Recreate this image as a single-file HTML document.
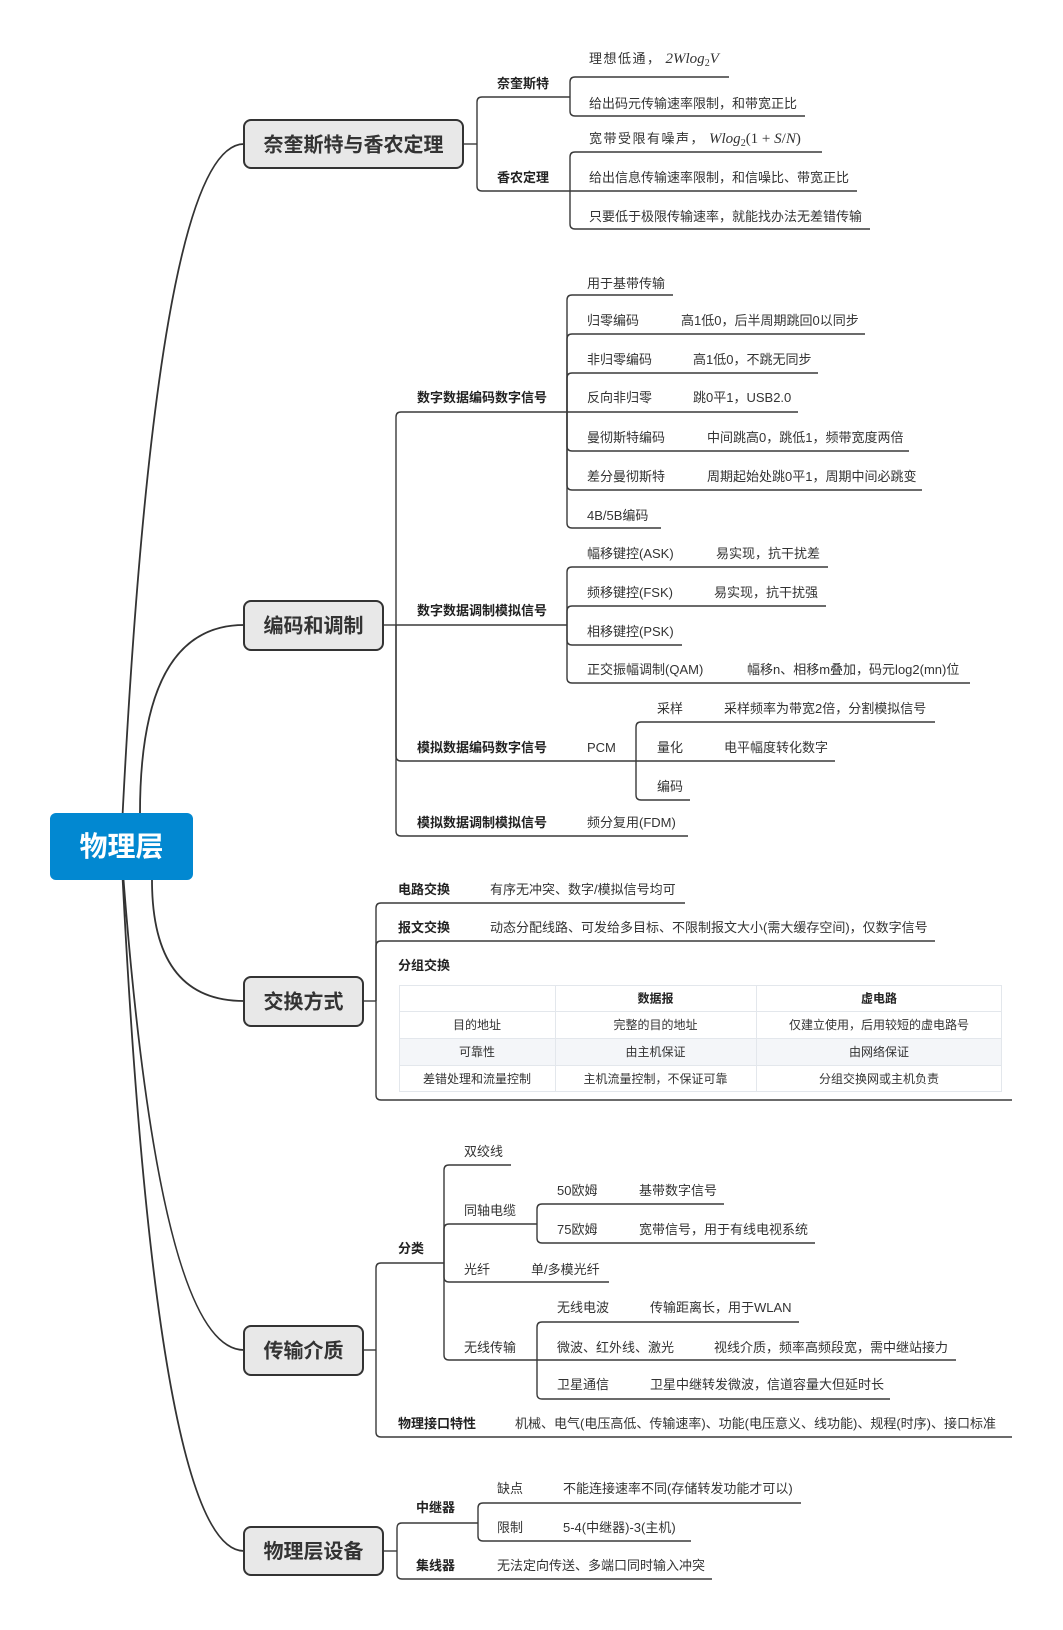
<!DOCTYPE html>
<html><head><meta charset="utf-8"><style>
html,body{margin:0;padding:0;background:#fff;}
svg{display:block;}
text{font-family:"Liberation Sans","Noto Sans CJK SC",sans-serif;font-size:13px;fill:#333;}
.b{font-weight:bold;fill:#222;}
.t{font-size:12px;fill:#333;}
.tb{font-size:12px;font-weight:bold;fill:#222;}
.m{font-family:"Liberation Serif",serif;font-style:italic;font-size:15px;}
.mr{font-family:"Liberation Serif",serif;font-style:normal;font-size:15px;}
.sub{font-family:"Liberation Serif",serif;font-style:normal;font-size:10px;}
.box{font-size:20px;font-weight:bold;fill:#333;}
</style></head><body>
<svg width="1063" height="1630" viewBox="0 0 1063 1630" xmlns="http://www.w3.org/2000/svg">
<rect width="1063" height="1630" fill="#fff"/>
<!-- root curves -->
<g fill="none" stroke="#333" stroke-width="1.8">
<path d="M121 846 Q155 144 244 144"/>
<path d="M140 813 Q140 625 244 625"/>
<path d="M152 880 Q152 1001 244 1001"/>
<path d="M121 846 Q157 1350 244 1350"/>
<path d="M121 846 Q155 1551 244 1551"/>
</g>
<!-- branch lines -->
<g fill="none" stroke="#3a3a3a" stroke-width="1.4">
<!-- section 1 -->
<path d="M463 144 L477 144"/>
<path d="M477 144 L477 102 Q477 97 482 97 L570 97"/>
<path d="M477 144 L477 186 Q477 191 482 191 L570 191"/>
<path d="M570 97 L570 82 Q570 77 575 77 L729 77"/>
<path d="M570 97 L570 111 Q570 116 575 116 L805 116"/>
<path d="M570 191 L570 157 Q570 152 575 152 L822 152"/>
<path d="M570 191 L857 191"/>
<path d="M570 191 L570 224 Q570 229 575 229 L870 229"/>
<!-- section 2 -->
<path d="M383 625 L396 625"/>
<path d="M396 625 L396 417 Q396 412 401 412 L567 412"/>
<path d="M396 625 L567 625"/>
<path d="M396 625 L396 756 Q396 761 401 761 L636 761"/>
<path d="M396 625 L396 831 Q396 836 401 836 L688 836"/>
<path d="M567 412 L567 300 Q567 295 572 295 L673 295"/>
<path d="M567 412 L567 339 Q567 334 572 334 L865 334"/>
<path d="M567 412 L567 378 Q567 373 572 373 L818 373"/>
<path d="M567 412 L798 412"/>
<path d="M567 412 L567 446 Q567 451 572 451 L909 451"/>
<path d="M567 412 L567 485 Q567 490 572 490 L922 490"/>
<path d="M567 412 L567 523 Q567 528 572 528 L661 528"/>
<path d="M567 625 L567 572 Q567 567 572 567 L828 567"/>
<path d="M567 625 L567 611 Q567 606 572 606 L826 606"/>
<path d="M567 625 L567 640 Q567 645 572 645 L682 645"/>
<path d="M567 625 L567 678 Q567 683 572 683 L970 683"/>
<path d="M636 761 L636 727 Q636 722 641 722 L935 722"/>
<path d="M636 761 L835 761"/>
<path d="M636 761 L636 795 Q636 800 641 800 L690 800"/>
<!-- section 3 -->
<path d="M363 1001 L376 1001"/>
<path d="M376 1001 L376 908 Q376 903 381 903 L685 903"/>
<path d="M376 1001 L376 946 Q376 941 381 941 L935 941"/>
<path d="M376 1001 L376 1095 Q376 1100 381 1100 L1012 1100"/>
<!-- section 4 -->
<path d="M363 1350 L376 1350"/>
<path d="M376 1350 L376 1268 Q376 1263 381 1263 L444 1263"/>
<path d="M376 1350 L376 1432 Q376 1437 381 1437 L1012 1437"/>
<path d="M444 1263 L444 1170 Q444 1165 449 1165 L511 1165"/>
<path d="M444 1263 L444 1229 Q444 1224 449 1224 L537 1224"/>
<path d="M444 1263 L444 1277 Q444 1282 449 1282 L609 1282"/>
<path d="M444 1263 L444 1355 Q444 1360 449 1360 L537 1360"/>
<path d="M537 1224 L537 1209 Q537 1204 542 1204 L724 1204"/>
<path d="M537 1224 L537 1238 Q537 1243 542 1243 L815 1243"/>
<path d="M537 1360 L537 1327 Q537 1322 542 1322 L799 1322"/>
<path d="M537 1360 L956 1360"/>
<path d="M537 1360 L537 1394 Q537 1399 542 1399 L890 1399"/>
<!-- section 5 -->
<path d="M383 1551 L397 1551"/>
<path d="M397 1551 L397 1528 Q397 1523 402 1523 L478 1523"/>
<path d="M397 1551 L397 1574 Q397 1579 402 1579 L712 1579"/>
<path d="M478 1523 L478 1508 Q478 1503 483 1503 L801 1503"/>
<path d="M478 1523 L478 1536 Q478 1541 483 1541 L691 1541"/>
</g>

<!-- root -->
<rect x="50" y="813" width="143" height="67" rx="6" fill="#0288d1"/>
<text x="121.5" y="856" text-anchor="middle" style="font-size:28px;font-weight:bold;fill:#fff;">物理层</text>

<!-- main boxes -->
<g fill="#e8e8e8" stroke="#333" stroke-width="2">
<rect x="244" y="120" width="219" height="48" rx="7"/>
<rect x="244" y="601" width="139" height="49" rx="7"/>
<rect x="244" y="977" width="119" height="49" rx="7"/>
<rect x="244" y="1326" width="119" height="49" rx="7"/>
<rect x="244" y="1527" width="139" height="48" rx="7"/>
</g>
<text class="box" x="353.5" y="151.5" text-anchor="middle">奈奎斯特与香农定理</text>
<text class="box" x="313.5" y="632.5" text-anchor="middle">编码和调制</text>
<text class="box" x="303.5" y="1008.5" text-anchor="middle">交换方式</text>
<text class="box" x="303.5" y="1357.5" text-anchor="middle">传输介质</text>
<text class="box" x="313.5" y="1558" text-anchor="middle">物理层设备</text>

<!-- section 1 text -->
<text class="b" x="497" y="88">奈奎斯特</text>
<text class="b" x="497" y="182">香农定理</text>
<text x="589" y="63"><tspan letter-spacing="1.5">理想低通，</tspan><tspan class="m" dx="4">2Wlog</tspan><tspan class="sub" dy="3">2</tspan><tspan class="m" dy="-3">V</tspan></text>
<text x="589" y="108">给出码元传输速率限制，和带宽正比</text>
<text x="589" y="143"><tspan letter-spacing="1.5">宽带受限有噪声，</tspan><tspan class="m" dx="4">Wlog</tspan><tspan class="sub" dy="3">2</tspan><tspan class="mr" dy="-3">(1 + </tspan><tspan class="m">S</tspan><tspan class="mr">/</tspan><tspan class="m">N</tspan><tspan class="mr">)</tspan></text>
<text x="589" y="182">给出信息传输速率限制，和信噪比、带宽正比</text>
<text x="589" y="221">只要低于极限传输速率，就能找办法无差错传输</text>

<!-- section 2 text -->
<text class="b" x="417" y="402">数字数据编码数字信号</text>
<text class="b" x="417" y="615">数字数据调制模拟信号</text>
<text class="b" x="417" y="752">模拟数据编码数字信号</text>
<text class="b" x="417" y="827">模拟数据调制模拟信号</text>
<text x="587" y="288">用于基带传输</text>
<text x="587" y="325">归零编码</text><text x="681" y="325">高1低0，后半周期跳回0以同步</text>
<text x="587" y="364">非归零编码</text><text x="693" y="364">高1低0，不跳无同步</text>
<text x="587" y="402">反向非归零</text><text x="693" y="402">跳0平1，USB2.0</text>
<text x="587" y="442">曼彻斯特编码</text><text x="707" y="442">中间跳高0，跳低1，频带宽度两倍</text>
<text x="587" y="481">差分曼彻斯特</text><text x="707" y="481">周期起始处跳0平1，周期中间必跳变</text>
<text x="587" y="520">4B/5B编码</text>
<text x="587" y="558">幅移键控(ASK)</text><text x="716" y="558">易实现，抗干扰差</text>
<text x="587" y="597">频移键控(FSK)</text><text x="714" y="597">易实现，抗干扰强</text>
<text x="587" y="636">相移键控(PSK)</text>
<text x="587" y="674">正交振幅调制(QAM)</text><text x="747" y="674">幅移n、相移m叠加，码元log2(mn)位</text>
<text x="587" y="752">PCM</text>
<text x="657" y="713">采样</text><text x="724" y="713">采样频率为带宽2倍，分割模拟信号</text>
<text x="657" y="752">量化</text><text x="724" y="752">电平幅度转化数字</text>
<text x="657" y="791">编码</text>
<text x="587" y="827">频分复用(FDM)</text>

<!-- section 3 text -->
<text class="b" x="398" y="894">电路交换</text><text x="490" y="894">有序无冲突、数字/模拟信号均可</text>
<text class="b" x="398" y="932">报文交换</text><text x="490" y="932">动态分配线路、可发给多目标、不限制报文大小(需大缓存空间)，仅数字信号</text>
<text class="b" x="398" y="970">分组交换</text>
<!-- table -->
<rect x="399" y="1038" width="603" height="27" fill="#f4f6f9"/>
<g stroke="#e3e7ec" stroke-width="1" fill="none">
<rect x="399.5" y="985.5" width="602" height="106"/>
<line x1="399" y1="1011.5" x2="1002" y2="1011.5"/>
<line x1="399" y1="1038.5" x2="1002" y2="1038.5"/>
<line x1="399" y1="1065.5" x2="1002" y2="1065.5"/>
<line x1="555.5" y1="985" x2="555.5" y2="1092"/>
<line x1="756.5" y1="985" x2="756.5" y2="1092"/>
</g>
<text class="tb" x="655.5" y="1002.5" text-anchor="middle">数据报</text>
<text class="tb" x="879" y="1002.5" text-anchor="middle">虚电路</text>
<text class="t" x="477" y="1029" text-anchor="middle">目的地址</text>
<text class="t" x="655.5" y="1029" text-anchor="middle">完整的目的地址</text>
<text class="t" x="879" y="1029" text-anchor="middle">仅建立使用，后用较短的虚电路号</text>
<text class="t" x="477" y="1056" text-anchor="middle">可靠性</text>
<text class="t" x="655.5" y="1056" text-anchor="middle">由主机保证</text>
<text class="t" x="879" y="1056" text-anchor="middle">由网络保证</text>
<text class="t" x="477" y="1083" text-anchor="middle">差错处理和流量控制</text>
<text class="t" x="655.5" y="1083" text-anchor="middle">主机流量控制，不保证可靠</text>
<text class="t" x="879" y="1083" text-anchor="middle">分组交换网或主机负责</text>

<!-- section 4 text -->
<text class="b" x="398" y="1253">分类</text>
<text x="464" y="1156">双绞线</text>
<text x="464" y="1215">同轴电缆</text>
<text x="557" y="1195">50欧姆</text><text x="639" y="1195">基带数字信号</text>
<text x="557" y="1234">75欧姆</text><text x="639" y="1234">宽带信号，用于有线电视系统</text>
<text x="464" y="1274">光纤</text><text x="531" y="1274">单/多模光纤</text>
<text x="464" y="1352">无线传输</text>
<text x="557" y="1312">无线电波</text><text x="650" y="1312">传输距离长，用于WLAN</text>
<text x="557" y="1352">微波、红外线、激光</text><text x="714" y="1352">视线介质，频率高频段宽，需中继站接力</text>
<text x="557" y="1389">卫星通信</text><text x="650" y="1389">卫星中继转发微波，信道容量大但延时长</text>
<text class="b" x="398" y="1428">物理接口特性</text>
<text x="515" y="1428">机械、电气(电压高低、传输速率)、功能(电压意义、线功能)、规程(时序)、接口标准</text>

<!-- section 5 text -->
<text class="b" x="416" y="1512">中继器</text>
<text x="497" y="1493">缺点</text><text x="563" y="1493">不能连接速率不同(存储转发功能才可以)</text>
<text x="497" y="1532">限制</text><text x="563" y="1532">5-4(中继器)-3(主机)</text>
<text class="b" x="416" y="1570">集线器</text>
<text x="497" y="1570">无法定向传送、多端口同时输入冲突</text>
</svg>
</body></html>
